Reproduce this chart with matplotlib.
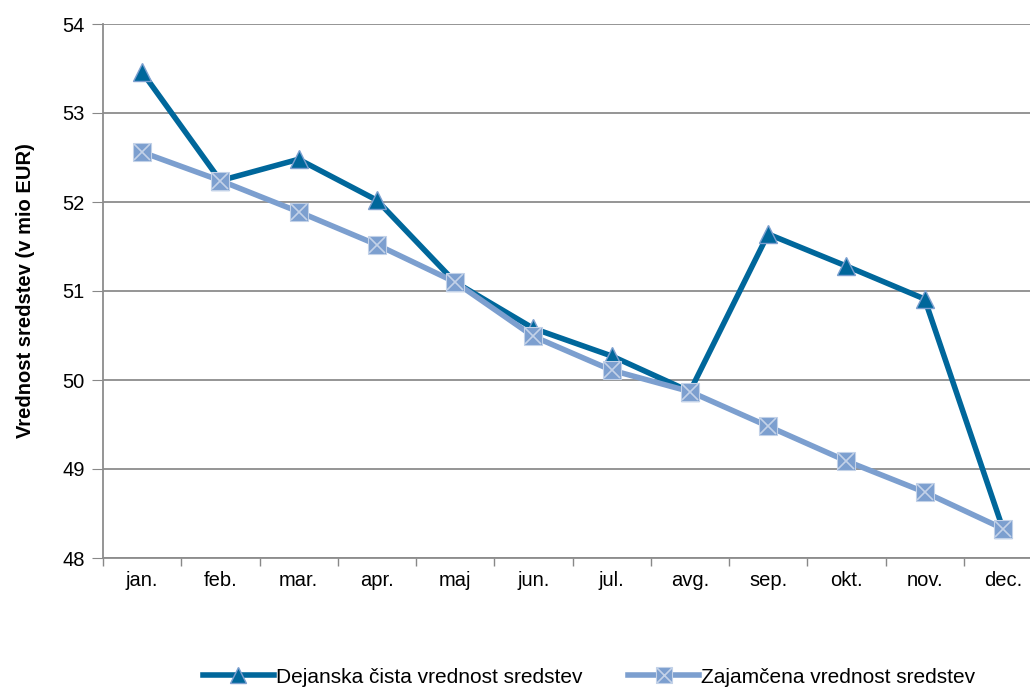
import numpy as np
import matplotlib
matplotlib.use("Agg")
import matplotlib.pyplot as plt
from matplotlib.legend_handler import HandlerTuple

plt.rcParams['font.family'] = ['Liberation Sans', 'DejaVu Sans']

months = ["jan.", "feb.", "mar.", "apr.", "maj", "jun.", "jul.", "avg.",
          "sep.", "okt.", "nov.", "dec."]
dejanska = [53.46, 52.24, 52.48, 52.02, 51.10, 50.58, 50.27, 49.87,
            51.64, 51.28, 50.91, 48.33]
zajamcena = [52.56, 52.24, 51.89, 51.52, 51.10, 50.49, 50.11, 49.87,
             49.48, 49.09, 48.74, 48.33]

dark = "#00679b"
light = "#7c9fcf"
cross = "#c3d2e8"

fig = plt.figure(figsize=(10.30, 6.91), dpi=100)
ax = fig.add_axes([103/1030, 1 - 558/691, (1042 - 103)/1030, (558 - 24)/691])

x = np.arange(len(months))

l2, = ax.plot(x, zajamcena, color=light, lw=4, marker="s", ms=13,
              mfc=light, mec=cross, mew=0.8, zorder=3)
x2, = ax.plot(x, zajamcena, ls="none", marker="x", ms=12, mec=cross,
              mew=1.2, zorder=4)
l1, = ax.plot(x, dejanska, color=dark, lw=4, marker="^", ms=13,
              mfc=dark, mec=light, mew=1.0, zorder=2)

ax.set_xlim(-0.5, 11.5)
ax.set_ylim(48, 54)
ax.set_yticks(range(48, 55))
ax.set_xticks(x)
ax.set_xticklabels(months)
ax.set_xticks(np.arange(-0.5, 12, 1), minor=True)
ax.tick_params(axis="x", which="major", length=0, labelsize=14.5, pad=9)
ax.tick_params(axis="x", which="minor", length=6, color="#888888", width=1)
ax.tick_params(axis="y", length=8, color="#888888", labelsize=14.5, pad=5)

ax.grid(axis="y", color="#8c8c8c", lw=1.3)
ax.set_axisbelow(True)
for s in ["top", "right"]:
    ax.spines[s].set_visible(False)
for s in ["left", "bottom"]:
    ax.spines[s].set_color("#8c8c8c")
    ax.spines[s].set_linewidth(1.3)

ax.set_ylabel("Vrednost sredstev (v mio EUR)", fontsize=14.5, fontweight="bold",
              labelpad=20)

fig.legend([l1, (l2, x2)], ["Dejanska čista vrednost sredstev",
                            "Zajamčena vrednost sredstev"],
           handler_map={tuple: HandlerTuple(ndivide=1, pad=0)},
           loc="center", bbox_to_anchor=(0.572, 0.02), ncol=2, frameon=False,
           fontsize=15, handlelength=3.4, handletextpad=0.1, columnspacing=2.2,
           markerscale=0.9)

fig.savefig("out.png", dpi=100)
